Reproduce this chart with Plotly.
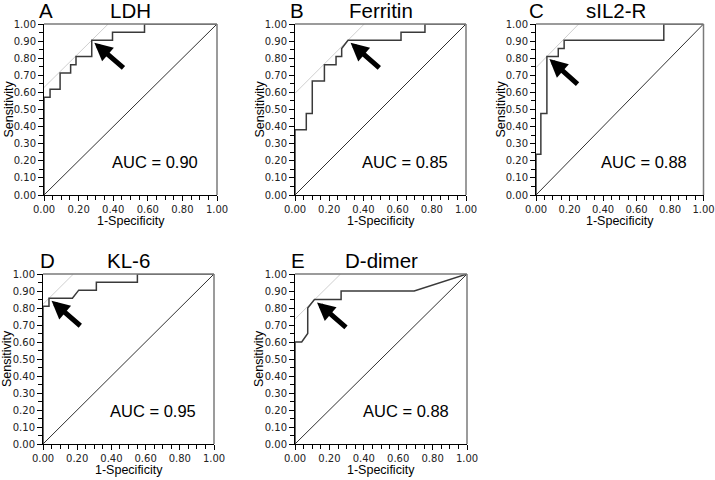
import plotly.graph_objects as go

# ---------------- data ----------------
panel_letters = ["A", "B", "C", "D", "E"]
panel_titles = ["LDH", "Ferritin", "sIL2-R", "KL-6", "D-dimer"]
auc_labels = ["AUC = 0.90", "AUC = 0.85", "AUC = 0.88", "AUC = 0.95", "AUC = 0.88"]

ldh_fpr = [0, 0, 0.035, 0.035, 0.093, 0.093, 0.154, 0.154, 0.185, 0.185, 0.276, 0.276, 0.396, 0.396, 0.581, 0.581, 1.0]
ldh_tpr = [0, 0.571, 0.571, 0.619, 0.619, 0.714, 0.714, 0.762, 0.762, 0.810, 0.810, 0.905, 0.905, 0.952, 0.952, 1.0, 1.0]

ferritin_fpr = [0, 0, 0.066, 0.066, 0.101, 0.101, 0.172, 0.172, 0.240, 0.240, 0.273, 0.273, 0.31, 0.62, 0.62, 0.76, 0.76, 1.0]
ferritin_tpr = [0, 0.381, 0.381, 0.476, 0.476, 0.667, 0.667, 0.762, 0.762, 0.810, 0.810, 0.857, 0.905, 0.905, 0.952, 0.952, 1.0, 1.0]

sil2r_fpr = [0, 0, 0.029, 0.029, 0.065, 0.065, 0.133, 0.133, 0.168, 0.168, 0.763, 0.763, 1.0]
sil2r_tpr = [0, 0.238, 0.238, 0.476, 0.476, 0.810, 0.810, 0.857, 0.857, 0.905, 0.905, 1.0, 1.0]

kl6_fpr = [0, 0, 0.035, 0.035, 0.172, 0.209, 0.312, 0.312, 0.552, 0.552, 1.0]
kl6_tpr = [0, 0.810, 0.810, 0.857, 0.857, 0.905, 0.905, 0.952, 0.952, 1.0, 1.0]

ddimer_fpr = [0, 0, 0.039, 0.074, 0.074, 0.113, 0.268, 0.268, 0.693, 1.0]
ddimer_tpr = [0, 0.60, 0.60, 0.65, 0.80, 0.85, 0.85, 0.90, 0.90, 1.0]

# optimal cut-off points (1-specificity, sensitivity)
cutoff_fpr = [0.276, 0.31, 0.065, 0.035, 0.113]
cutoff_tpr = [0.905, 0.905, 0.810, 0.857, 0.848]

x_tick_vals = [0, 0.2, 0.4, 0.6, 0.8, 1.0]
y_tick_vals = [0, 0.1, 0.2, 0.3, 0.4, 0.5, 0.6, 0.7, 0.8, 0.9, 1.0]

curves = [(ldh_fpr, ldh_tpr), (ferritin_fpr, ferritin_tpr), (sil2r_fpr, sil2r_tpr),
          (kl6_fpr, kl6_tpr), (ddimer_fpr, ddimer_tpr)]

# ---------------- layout (pixels) ----------------
W, H = 715, 480
# plot-area boxes: left, right, top, bottom
boxes = [(44, 217, 24, 195), (295, 466, 24, 195), (536, 703.5, 24, 195),
         (43, 214, 274, 444), (295, 467, 274, 444)]
letter_left = [37, 288, 527, 38, 289]
title_cx = [130.5, 380.5, 616, 128.5, 381]

TXT = "Liberation Sans, Arial, sans-serif"
TICKF = "DejaVu Sans, Verdana, sans-serif"

def px(x):
    return x / W

def py(y):
    return 1 - y / H

fig = go.Figure()
layout = dict(width=W, height=H, autosize=False, margin=dict(l=0, r=0, t=0, b=0, pad=0),
              paper_bgcolor="white", plot_bgcolor="white", showlegend=False)
annotations = []
shapes = []

for i in range(5):
    n = "" if i == 0 else str(i + 1)
    xa, ya = "x" + n, "y" + n
    l, r, t, b = boxes[i]
    fx, fy = curves[i]
    cx, cy = cutoff_fpr[i], cutoff_tpr[i]

    # diagonal reference
    fig.add_trace(go.Scatter(x=[0, 1], y=[0, 1], mode="lines", xaxis=xa, yaxis=ya,
                             line=dict(color="#303030", width=1), hoverinfo="skip"))
    # tangent through the cut-off point (45 degrees)
    icpt = cy - cx
    fig.add_trace(go.Scatter(x=[0, 1 - icpt], y=[icpt, 1], mode="lines", xaxis=xa, yaxis=ya,
                             line=dict(color="#cfcfcf", width=1), hoverinfo="skip"))
    # ROC curve
    fig.add_trace(go.Scatter(x=fx, y=fy, mode="lines", xaxis=xa, yaxis=ya,
                             line=dict(color="#3a3a3a", width=1.5), hoverinfo="skip"))

    common = dict(showgrid=False, zeroline=False, showline=True, linecolor="black",
                  linewidth=1, ticks="outside", ticklen=5, tickcolor="black", tickwidth=1,
                  tickformat=".2f", tickfont=dict(family=TICKF, size=10, color="#222"),
                  fixedrange=True, automargin=False, ticklabeloverflow="allow")
    layout["xaxis" + n] = dict(common, domain=[px(l), px(r)], range=[0, 1], anchor=ya,
                               tickvals=x_tick_vals,
                               minor=dict(ticks="outside", dtick=0.05, ticklen=4,
                                          tickcolor="black", tickwidth=1))
    layout["yaxis" + n] = dict(common, domain=[py(b), py(t)], range=[0, 1], anchor=xa,
                               tickvals=y_tick_vals,
                               minor=dict(ticks="outside", dtick=0.05, ticklen=4,
                                          tickcolor="black", tickwidth=1))

    # gray top/right frame
    shapes.append(dict(type="line", xref=xa + " domain", yref=ya + " domain",
                       x0=0, x1=1, y0=1, y1=1, line=dict(color="#7a7a7a", width=1.5)))
    shapes.append(dict(type="line", xref=xa + " domain", yref=ya + " domain",
                       x0=1, x1=1, y0=0, y1=1, line=dict(color="#7a7a7a", width=1.5)))

    # panel letter and title
    annotations.append(dict(text=panel_letters[i], xref="paper", yref="paper",
                            x=px(letter_left[i]), y=py(t - 13.5), xanchor="left", yanchor="middle",
                            showarrow=False, font=dict(family=TXT, size=20.5, color="black")))
    annotations.append(dict(text=panel_titles[i], xref="paper", yref="paper",
                            x=px(title_cx[i]), y=py(t - 13.5), xanchor="center", yanchor="middle",
                            showarrow=False, font=dict(family=TXT, size=20.5, color="black")))
    # axis titles
    annotations.append(dict(text="Sensitivity", xref="paper", yref="paper",
                            x=px(l - 36), y=py((t + b) / 2), xanchor="center", yanchor="middle",
                            textangle=-90, showarrow=False,
                            font=dict(family=TXT, size=12.5, color="black")))
    annotations.append(dict(text="1-Specificity", xref="paper", yref="paper",
                            x=px((l + r) / 2), y=py(b + 26), xanchor="center", yanchor="middle",
                            showarrow=False, font=dict(family=TXT, size=12.5, color="black")))
    # AUC text
    annotations.append(dict(text=auc_labels[i], xref=xa, yref=ya, x=0.643, y=0.195,
                            xanchor="center", yanchor="middle", showarrow=False,
                            font=dict(family=TXT, size=16.5, color="black")))
    # arrow pointing at the cut-off
    tipx, tipy = cx + 0.015, cy - 0.015
    annotations.append(dict(text="", xref=xa, yref=ya, axref=xa, ayref=ya,
                            x=tipx, y=tipy, ax=tipx + 0.177, ay=tipy - 0.154,
                            showarrow=True, arrowhead=2, arrowsize=0.72, arrowwidth=5,
                            arrowcolor="black", standoff=0, startstandoff=0))

layout["annotations"] = annotations
layout["shapes"] = shapes
fig.update_layout(**layout)
fig.write_html("out.html", config={"displayModeBar": False, "staticPlot": True},
               post_script="document.body.style.margin='0';document.body.style.overflow='hidden';")
